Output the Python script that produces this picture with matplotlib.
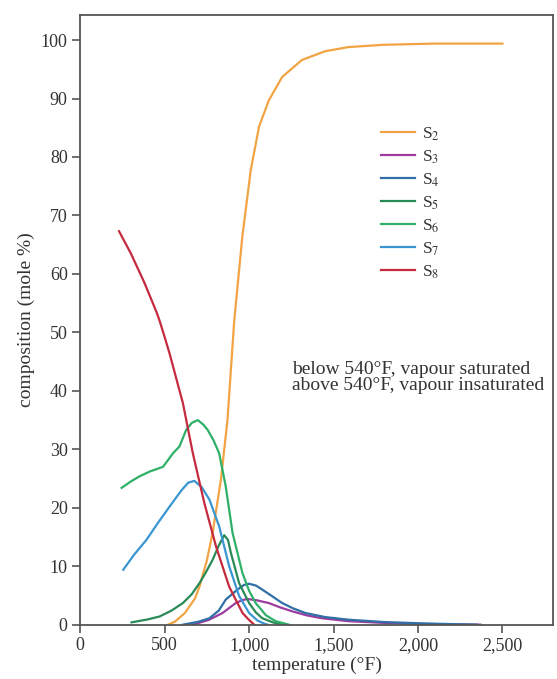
import matplotlib
matplotlib.use("Agg")
import matplotlib.pyplot as plt

plt.rcParams["font.family"] = ["Liberation Serif", "DejaVu Serif"]
plt.rcParams["mathtext.fontset"] = "stix"

# sulfur vapour species composition (mole %) vs temperature (degF)
s2_t = [520, 560, 620, 680, 706, 750, 784, 833, 872, 912, 960, 1010, 1059, 1117,
        1196, 1313, 1451, 1588, 1800, 2100, 2500]
s2_y = [0, 0.5, 2, 4.5, 6.5, 11, 15.7, 24.8, 35, 52, 66.4, 77.8, 85.2, 89.7,
        93.7, 96.6, 98.1, 98.8, 99.2, 99.4, 99.4]

s3_t = [667, 760, 843, 921, 960, 990, 1040, 1117, 1180, 1254, 1340, 1431, 1588,
        1800, 2050, 2370]
s3_y = [0, 0.8, 2.0, 3.7, 4.2, 4.4, 4.2, 3.7, 3.0, 2.3, 1.6, 1.1, 0.6, 0.3, 0.12, 0]

s4_t = [608, 700, 765, 820, 862, 931, 970, 1000, 1040, 1078, 1140, 1196, 1260,
        1333, 1450, 1588, 1800, 2050, 2350]
s4_y = [0, 0.5, 1.1, 2.4, 4.3, 6.0, 6.8, 7.0, 6.7, 6.0, 4.8, 3.7, 2.8, 2.0, 1.3,
        0.85, 0.45, 0.2, 0]

s5_t = [304, 400, 470, 540, 608, 660, 706, 745, 784, 820, 853, 875, 892, 941,
        1000, 1040, 1078, 1140, 1196]
s5_y = [0.4, 0.9, 1.4, 2.4, 3.7, 5.2, 7.1, 9.0, 11.1, 13.5, 15.3, 14.5, 12.3,
        7.1, 3.7, 2.1, 1.1, 0.4, 0]

s6_t = [245, 300, 353, 412, 490, 549, 588, 627, 660, 696, 730, 755, 790, 823,
        862, 902, 961, 1000, 1039, 1100, 1157, 1235]
s6_y = [23.4, 24.5, 25.4, 26.2, 27.0, 29.3, 30.5, 33.3, 34.5, 35.0, 34.2, 33.3,
        31.5, 29.3, 23.6, 15.7, 8.8, 5.8, 3.7, 1.6, 0.6, 0]

s7_t = [255, 320, 392, 460, 529, 600, 640, 676, 720, 765, 823, 882, 941, 1000,
        1050, 1088, 1110]
s7_y = [9.4, 12, 14.5, 17.4, 20.2, 23.0, 24.3, 24.6, 23.5, 21.4, 16.8, 10.0, 4.9,
        2.0, 0.7, 0.2, 0]

s8_t = [230, 300, 380, 420, 450, 470, 500, 529, 608, 667, 735, 804, 882, 961,
        1000, 1030]
s8_y = [67.3, 63.5, 58.5, 55.7, 53.6, 52, 49.2, 46.4, 37.9, 29.3, 20.8, 13.4, 6.5,
        2.0, 0.8, 0]

SERIES = [
    ("S$_2$", s2_t, s2_y, "#f2a444"),
    ("S$_3$", s3_t, s3_y, "#9c3c9e"),
    ("S$_4$", s4_t, s4_y, "#2f6fa6"),
    ("S$_5$", s5_t, s5_y, "#2a8a57"),
    ("S$_6$", s6_t, s6_y, "#2fb068"),
    ("S$_7$", s7_t, s7_y, "#3a96d2"),
    ("S$_8$", s8_t, s8_y, "#c52a3e"),
]

x_ticks = [0, 500, 1000, 1500, 2000, 2500]
x_tick_labels = ["0", "500", "1,000", "1,500", "2,000", "2,500"]
y_ticks = list(range(0, 101, 10))

TEXT_COLOR = "#333333"
SPINE_COLOR = "#555555"

fig = plt.figure(figsize=(5.57, 6.79), dpi=100)
ax = fig.add_axes([0.144, 0.080, 0.849, 0.898])

for label, t, y, color in SERIES:
    ax.plot(t, y, color=color, linewidth=1.6, label=label)

ax.set_xlim(0, 2800)
ax.set_ylim(0, 104.3)
ax.set_xticks(x_ticks)
ax.set_xticklabels(x_tick_labels)
ax.set_yticks(y_ticks)
ax.tick_params(direction="out", length=6, width=1.2, color=SPINE_COLOR, pad=3,
               labelsize=13, labelcolor=TEXT_COLOR, top=False, right=False)
for sp in ax.spines.values():
    sp.set_color(SPINE_COLOR)
    sp.set_linewidth(1.3)

ax.set_xlabel("temperature (°F)", fontsize=14, color=TEXT_COLOR, labelpad=2)
ax.set_ylabel("composition (mole %)", fontsize=14, color=TEXT_COLOR, labelpad=4)

ax.text(1253, 42.3, "below 540°F, vapour saturated\nabove 540°F, vapour insaturated",
        fontsize=14, color=TEXT_COLOR, va="center", ha="left", linespacing=0.95)

leg = ax.legend(loc="upper left", bbox_to_anchor=(0.621, 0.830), frameon=False,
                fontsize=12.5, handlelength=1.95, handletextpad=0.4,
                labelspacing=0.32, borderaxespad=0)
for txt in leg.get_texts():
    txt.set_color(TEXT_COLOR)

fig.savefig("out.png", dpi=100)
